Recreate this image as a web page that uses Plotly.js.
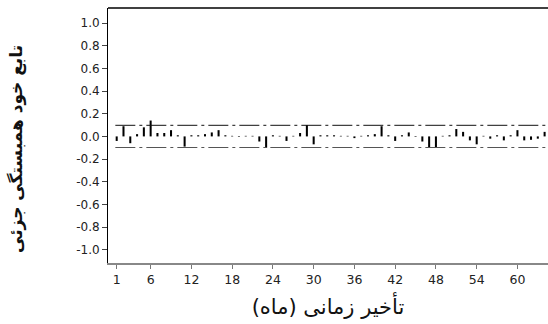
<!DOCTYPE html>
<html>
<head>
<meta charset="utf-8">
<script src="https://cdn.plot.ly/plotly-3.0.1.min.js"></script>
<style>html,body{margin:0;padding:0;background:#fff;}#chart{width:548px;height:324px;}</style>
</head>
<body>
<div id="chart"></div>
<script>
// Lags 1..64
const lags = Array.from({length: 64}, (_, i) => i + 1);
// Partial autocorrelation values
const pacfValues = [
  -0.04, 0.09, -0.06, 0.02, 0.08, 0.14, 0.03, 0.03, 0.055, 0.01,
  -0.09, 0.01, 0.01, 0.02, 0.035, 0.055, 0.01, 0.005, -0.005, 0.005,
  0.005, -0.045, -0.10, 0.01, 0.005, -0.04, 0.005, 0.03, 0.10, -0.07,
  0.01, 0.01, 0.01, 0.005, 0.005, -0.015, 0.005, 0.01, 0.02, 0.09,
  0.01, -0.04, 0.01, 0.035, -0.005, -0.045, -0.10, -0.10, 0.005, 0.01,
  0.065, 0.04, -0.035, -0.07, 0.005, -0.02, 0.01, -0.035, 0.01, 0.055,
  -0.035, -0.03, -0.02, 0.04
];
const confLimit = 0.098;
const xTickVals = [1, 6, 12, 18, 24, 30, 36, 42, 48, 54, 60];
const yTickVals = [1.0, 0.8, 0.6, 0.4, 0.2, 0.0, -0.2, -0.4, -0.6, -0.8, -1.0];
const yTickText = ["1.0", "0.8", "0.6", "0.4", "0.2", "0.0", "-0.2", "-0.4", "-0.6", "-0.8", "-1.0"];
const xTitle = "تأخیر زمانی (ماه)";
const yTitle = "تابع خود همبستگی جزئی";

const xRange = [-0.28, 64.5];
const yRange = [-1.117, 1.133];

const font = "DejaVu Sans, sans-serif";

const traces = [{
  type: "bar",
  x: lags,
  y: pacfValues,
  width: 0.3,
  marker: {color: "#000", line: {width: 0}},
  hoverinfo: "x+y"
}];

const layout = {
  width: 548, height: 324,
  margin: {l: 108, r: 0, t: 8, b: 61, pad: 0},
  paper_bgcolor: "#fff", plot_bgcolor: "#fff",
  showlegend: false,
  font: {family: font, color: "#222", size: 12},
  xaxis: {
    range: xRange,
    tickmode: "array", tickvals: xTickVals,
    ticks: "outside", ticklen: 4, tickcolor: "#777", tickwidth: 1,
    showgrid: false, zeroline: false,
    showline: true, linecolor: "#888", linewidth: 2,
    tickfont: {family: font, size: 12.5, color: "#222"},
    title: {text: xTitle, font: {family: font, size: 21, color: "#111"}, standoff: 13}
  },
  yaxis: {
    range: yRange,
    tickmode: "array", tickvals: yTickVals, ticktext: yTickText,
    ticks: "outside", ticklen: 5, tickcolor: "#444", tickwidth: 1,
    showgrid: false, zeroline: false,
    showline: true, linecolor: "#000", linewidth: 1,
    tickfont: {family: font, size: 12, color: "#222"}
  },
  shapes: [
    {type: "line", xref: "paper", yref: "paper", x0: 0, x1: 1, y0: 1, y1: 1,
     line: {color: "#000", width: 1.3}},
    {type: "line", xref: "x", yref: "y", x0: lags[0] - 0.2, x1: xRange[1], y0: confLimit, y1: confLimit,
     line: {color: "#111", width: 1, dash: "20px,4px,3px,4px"}},
    {type: "line", xref: "x", yref: "y", x0: lags[0] - 0.2, x1: xRange[1], y0: -confLimit, y1: -confLimit,
     line: {color: "#555", width: 1, dash: "20px,4px,3px,4px"}}
  ],
  annotations: [{
    text: "<b>" + yTitle + "</b>", textangle: -90,
    xref: "paper", yref: "paper", x: -0.208, y: 0.449,
    xanchor: "center", yanchor: "middle", showarrow: false,
    font: {family: font, size: 17, color: "#111"}
  }]
};

Plotly.newPlot("chart", traces, layout, {displayModeBar: false, staticPlot: true});
</script>
</body>
</html>
